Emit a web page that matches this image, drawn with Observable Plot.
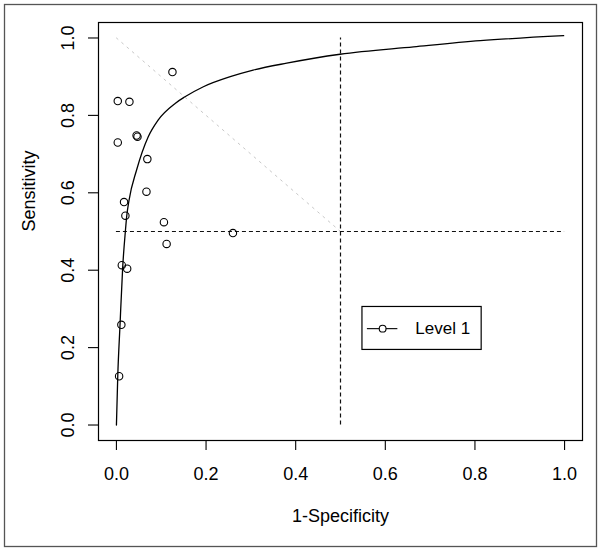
<!DOCTYPE html>
<html>
<head>
<meta charset="utf-8">
<script src="https://cdn.jsdelivr.net/npm/d3@7"></script>
<script src="https://cdn.jsdelivr.net/npm/@observablehq/plot@0.6"></script>
<style>
  html, body { margin: 0; padding: 0; background: #fff; }
</style>
</head>
<body>
<div id="chart"></div>
<script>
// ---- data ----
const studyFPR = [0.125, 0.003, 0.029, 0.045, 0.047, 0.003, 0.069, 0.067, 0.017, 0.020, 0.106, 0.112, 0.260, 0.012, 0.024, 0.011, 0.006];
const studyTPR = [0.912, 0.837, 0.835, 0.748, 0.745, 0.730, 0.687, 0.603, 0.576, 0.541, 0.524, 0.468, 0.496, 0.413, 0.404, 0.259, 0.126];

const curveFPR = [0, 0.003, 0.008, 0.014, 0.020, 0.023, 0.028, 0.045, 0.071, 0.093, 0.131, 0.153, 0.194, 0.254, 0.305, 0.380, 0.499, 0.663, 0.812, 0.998];
const curveTPR = [0, 0.127, 0.258, 0.408, 0.501, 0.540, 0.580, 0.659, 0.745, 0.788, 0.831, 0.848, 0.874, 0.900, 0.917, 0.935, 0.958, 0.977, 0.993, 1.006];

const diagFPR = [0, 0.5];
const diagTPR = [1, 0.5];

const refX = [0.5];
const refY = [0.5];

const xTicks = [0, 0.2, 0.4, 0.6, 0.8, 1.0];
const yTicks = [0, 0.2, 0.4, 0.6, 0.8, 1.0];

const xTitle = "1-Specificity";
const yTitle = "Sensitivity";
const legendLabel = "Level 1";

// ---- tables built from the arrays ----
const studies = studyFPR.map((x, i) => ({x, y: studyTPR[i]}));
const curve = curveFPR.map((x, i) => ({x, y: curveTPR[i]}));
const diag = diagFPR.map((x, i) => ({x, y: diagTPR[i]}));

// legend placement (data coordinates)
const LG = {x1: 0.549, x2: 0.815, y1: 0.194, y2: 0.305, lx1: 0.560, lx2: 0.628, ly: 0.249, tx: 0.667};

const FONT = "'Liberation Sans', Arial, Helvetica, sans-serif";

const chart = Plot.plot({
  width: 601,
  height: 550,
  marginLeft: 98,
  marginRight: 19,
  marginTop: 22,
  marginBottom: 110,
  x: {domain: [-0.04, 1.04]},
  y: {domain: [-0.04, 1.04]},
  style: {fontFamily: FONT, fontSize: "18px", background: "#fff", color: "#000", overflow: "visible"},
  marks: [
    // outer figure border
    Plot.frame({stroke: "#555", strokeWidth: 1.3, insetLeft: -94, insetTop: -18, insetRight: -14, insetBottom: -106}),
    // plot box
    Plot.frame({stroke: "#000", strokeWidth: 1.2}),
    // light dotted anti-diagonal
    Plot.line(diag, {x: "x", y: "y", stroke: "#c8c8c8", strokeWidth: 1, strokeDasharray: "2,5"}),
    // dashed reference lines
    Plot.ruleX(refX, {x: d => d, y1: 0, y2: 1, stroke: "#111", strokeWidth: 1.2, strokeDasharray: "4,3"}),
    Plot.ruleY(refY, {y: d => d, x1: 0, x2: 1, stroke: "#111", strokeWidth: 1.2, strokeDasharray: "4,3"}),
    // SROC curve
    Plot.line(curve, {x: "x", y: "y", stroke: "#000", strokeWidth: 1.3, curve: "monotone-x"}),
    // study points
    Plot.dot(studies, {x: "x", y: "y", r: 3.7, stroke: "#000", strokeWidth: 1.1, fill: "none"}),
    // axes
    Plot.axisX({ticks: xTicks, tickSize: 10, tickPadding: 17, tickFormat: d => d.toFixed(1), label: null, fontSize: 18, strokeWidth: 1.1}),
    Plot.axisY({ticks: yTicks, tickSize: 10, tickPadding: 15, tickRotate: -90, tickFormat: d => d.toFixed(1), label: null, fontSize: 18, strokeWidth: 1.1}),
    // axis titles
    Plot.text([xTitle], {frameAnchor: "bottom", dy: 76, text: d => d, fontSize: 18, lineAnchor: "middle"}),
    Plot.text([yTitle], {frameAnchor: "left", dx: -69, rotate: -90, text: d => d, fontSize: 18, lineAnchor: "middle"}),
    // legend
    Plot.rect([legendLabel], {x1: LG.x1, x2: LG.x2, y1: LG.y1, y2: LG.y2, fill: "#fff", stroke: "#000", strokeWidth: 1.2}),
    Plot.ruleY([legendLabel], {y: LG.ly, x1: LG.lx1, x2: LG.lx2, stroke: "#000", strokeWidth: 1.1}),
    Plot.dot([legendLabel], {x: (LG.lx1 + LG.lx2) / 2, y: LG.ly, r: 3.4, stroke: "#000", strokeWidth: 1.1, fill: "#fff"}),
    Plot.text([legendLabel], {x: LG.tx, y: LG.ly, text: d => d, textAnchor: "start", lineAnchor: "middle", fontSize: 17})
  ]
});

document.getElementById("chart").appendChild(chart);
</script>
</body>
</html>
